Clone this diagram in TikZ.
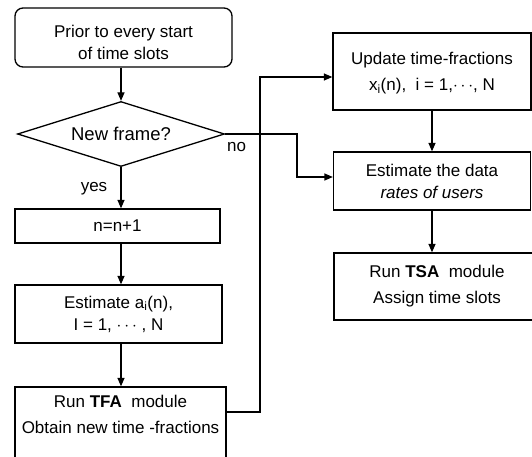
\documentclass[tikz,border=0pt]{standalone}
\usepackage{fontspec}
\setmainfont{Liberation Sans}
\usetikzlibrary{arrows.meta,shapes.geometric}
\begin{document}
\begin{tikzpicture}[x=1pt,y=-1pt,
  box/.style={draw, line width=1.3pt, inner sep=2pt, align=center,
    font=\fontsize{17}{22}\selectfont},
  txt/.style={inner sep=0pt, align=center, font=\fontsize{17}{22}\selectfont},
  lbl/.style={inner sep=0pt, font=\fontsize{17}{20}\selectfont},
  arr/.style={line width=1.3pt, -{Triangle[length=8.5pt,width=7pt]}}]
\useasboundingbox (0,0) rectangle (532,457);
\clip (0,0) rectangle (532,457);

% left column
\node[box, rounded corners=8pt, minimum width=217pt, minimum height=59pt]
  (start) at (123.5,37.5) {};
\node[txt] (starttext) at (123.5,42) {Prior to every start\\of time slots};
\node[box, diamond, shape aspect=3.2, inner sep=0pt,
  minimum width=207pt, minimum height=65pt,
  font=\fontsize{18.5}{22}\selectfont] (dec) at (121,134) {New frame?};
\node[box, minimum width=205pt, minimum height=34pt] (nbox) at (117.5,226) {n=n+1};
\node[box, minimum width=207pt, minimum height=58pt] (estA) at (118.5,314)
  {Estimate a\textsubscript{i}(n),\\I = 1, $\cdots$ , N};
\node[box, minimum width=211pt, minimum height=82pt] (tfa) at (120.5,428) {};
\node[txt] (tfatext) at (120.5,414)
  {Run \textbf{TFA}\ \ module\\[4pt]Obtain new time -fractions};

% right column
\node[box, minimum width=198pt, minimum height=77pt] (update) at (432,71.5) {};
\node[txt] (updatetext) at (432,73.5)
  {Update time-fractions\\[4pt]x\textsubscript{i}(n),\ \ i = 1,$\cdots$, N};
\node[box, minimum width=197pt, minimum height=58pt] (estD) at (432,181)
  {Estimate the data\\\textit{rates of users}};
\node[box, minimum width=206pt, minimum height=67pt] (tsa) at (437,286.5)
  {Run \textbf{TSA}\ \ module\\[4pt]Assign time slots};

% branch labels
\node[lbl] (yes) at (94,189) {yes};
\node[lbl] (no) at (236.5,147) {no};

% connectors
\coordinate (nobend) at (297,134);
\coordinate (back) at (260,412);
\draw[arr] (start.south -| dec.north) -- (dec.north);
\draw[arr] (dec.south) -- (dec.south |- nbox.north);
\draw[arr] (nbox.south -| dec.south) -- (estA.north -| dec.south);
\draw[arr] (estA.south -| dec.south) -- (tfa.north -| dec.south);
\draw[arr] (dec.east) -- (nobend) |- ([yshift=4pt]estD.west);
\draw[arr] (tfa.east |- back) -- (back) |- ([yshift=-5.5pt]update.west);
\draw[arr] (update.south) -- (update.south |- estD.north);
\draw[arr] (estD.south) -- (estD.south |- tsa.north);
\end{tikzpicture}
\end{document}
